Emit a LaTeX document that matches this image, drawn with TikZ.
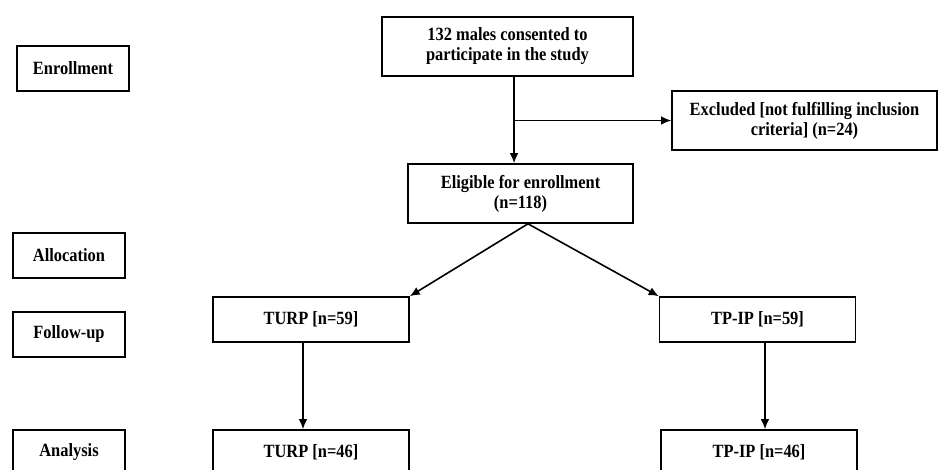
\documentclass[tikz,border=0pt]{standalone}
\usepackage{fontspec}
\setmainfont{Liberation Serif}[FakeStretch=0.88]
\usetikzlibrary{arrows.meta}

\begin{document}
\begin{tikzpicture}[
                x = 0.75pt, y = -0.75pt,
every node/.style = {rectangle, draw, line width=1.2pt, inner sep=0pt,
                     align=center, font=\bfseries\fontsize{14}{15}\selectfont},
      stage/.style = {minimum width=84pt, minimum height=33.75pt},
        arm/.style = {minimum width=147pt, minimum height=33.75pt},
       wide/.style = {minimum width=#1, minimum height=44.25pt},
        arr/.style = {line width=1.2pt, -{Latex[length=7.5pt,width=6.5pt]}}
                        ]
\clip (0,0) rectangle (938,470);
%
\node (Enroll)   [stage] at (73,68.5)   {Enrollment};
\node (Alloc)    [stage] at (69,255.5)  {Allocation};
\node (Follow)   [stage] at (69,334.5)  {Follow-up};
\node (Analysis) [stage] at (69,452.5)  {Analysis};
%
\node (Males) [wide=188.25pt] at (507.5,46.5)
    {132 males consented to\\participate in the study};
\node (Excl)  [wide=198.75pt] at (804.5,120.5)
    {Excluded [not fulfilling inclusion\\criteria] (n=24)};
\node (Elig)  [wide=168.75pt] at (520.5,193.5)
    {Eligible for enrollment\\(n=118)};
%
\node (TurpF) [arm] at (311,319.5)   {TURP [n=59]};
\node (TpipF) [arm] at (757.5,319.5) {TP-IP [n=59]};
\node (TurpA) [arm] at (311,452.5)   {TURP [n=46]};
\node (TpipA) [arm] at (759,452.5)   {TP-IP [n=46]};
%
\draw[arr] ([xshift=4.9pt]Males.south) coordinate (Top) -- (Top |- Elig.north);
\draw[arr] (Top |- Excl.west) -- (Excl.west);
\draw[arr] ([xshift=5.6pt]Elig.south) -- (TurpF.north east);
\draw[arr] ([xshift=5.6pt]Elig.south) -- (TpipF.north west);
\draw[arr] ([xshift=-6pt]TurpF.south) -- ([xshift=-6pt]TurpA.north);
\draw[arr] ([xshift=5.6pt]TpipF.south) -- ([xshift=4.5pt]TpipA.north);
    \end{tikzpicture}
\end{document}
